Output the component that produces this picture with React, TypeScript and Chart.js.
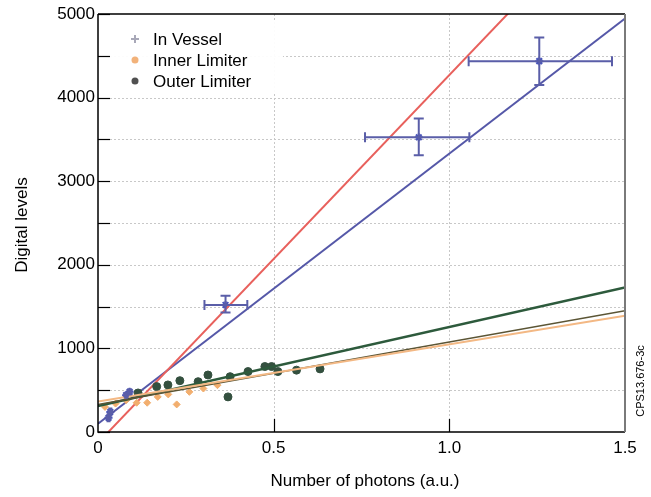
import React, { useEffect, useRef } from "react";
import { Chart, registerables } from "chart.js";

Chart.register(...registerables);

// ---- data ----
const vesselX = [0.03, 0.035, 0.08, 0.09, 0.363, 0.913, 1.256];
const vesselY = [170, 240, 440, 480, 1520, 3525, 4436];
const vesselXLow = [0.025, 0.03, 0.075, 0.085, 0.303, 0.76, 1.055];
const vesselXHigh = [0.035, 0.04, 0.085, 0.095, 0.425, 1.057, 1.463];
const vesselYLow = [130, 200, 410, 450, 1430, 3310, 4150];
const vesselYHigh = [210, 280, 470, 510, 1630, 3750, 4720];

const innerX = [0.02, 0.05, 0.08, 0.11, 0.14, 0.17, 0.2, 0.224, 0.26, 0.3, 0.34];
const innerY = [300, 340, 380, 350, 350, 420, 450, 330, 480, 520, 560];

const outerX = [0.114, 0.167, 0.199, 0.233, 0.285, 0.313, 0.376, 0.37, 0.427, 0.475, 0.494, 0.512, 0.565, 0.632];
const outerY = [467, 543, 563, 614, 602, 682, 662, 420, 723, 783, 783, 723, 740, 755];

const fitX = [0, 1.5];
const redFit = [-130, 6470];
const blueFit = [100, 4945];
const outerFit = [310, 1730];
const innerFitDark = [330, 1450];
const innerFitOrange = [365, 1390];

const xTicks = [0, 0.5, 1.0, 1.5];
const yTicks = [0, 1000, 2000, 3000, 4000, 5000];
const yMinorTicks = [500, 1500, 2500, 3500, 4500];
const xGrid = [0.5, 1.0];
const yGrid = [500, 1000, 1500, 2000, 2500, 3000, 3500, 4000, 4500];

const legendLabels = ["In Vessel", "Inner Limiter", "Outer Limiter"];

const FONT = "'Liberation Sans', Arial, sans-serif";

const pts = (xs: number[], ys: number[]) => xs.map((x, i) => ({ x, y: ys[i] }));

const customPlugin = {
  id: "customDraw",
  beforeDatasetsDraw(chart: any) {
    const { ctx, chartArea: a, scales } = chart;
    const xs = scales.x, ys = scales.y;
    ctx.save();
    ctx.strokeStyle = "#c8c8c8";
    ctx.lineWidth = 1;
    ctx.setLineDash([2, 2]);
    yGrid.forEach((v) => {
      const y = Math.round(ys.getPixelForValue(v)) + 0.5;
      ctx.beginPath();
      ctx.moveTo(a.left, y);
      ctx.lineTo(a.right, y);
      ctx.stroke();
    });
    xGrid.forEach((v) => {
      const x = Math.round(xs.getPixelForValue(v)) + 0.5;
      ctx.beginPath();
      ctx.moveTo(x, a.top);
      ctx.lineTo(x, a.bottom);
      ctx.stroke();
    });
    ctx.setLineDash([]);
    // legend background
    ctx.fillStyle = "rgba(255,255,255,0.95)";
    ctx.fillRect(a.left + 9, a.top + 8, 176, 72);
    ctx.restore();
  },
  afterDatasetsDraw(chart: any) {
    const { ctx, chartArea: a, scales } = chart;
    const xs = scales.x, ys = scales.y;
    ctx.save();
    // error bars
    ctx.strokeStyle = "#5a5ea8";
    ctx.lineWidth = 2;
    vesselX.forEach((vx, i) => {
      const px = xs.getPixelForValue(vx);
      const py = ys.getPixelForValue(vesselY[i]);
      const x1 = xs.getPixelForValue(vesselXLow[i]);
      const x2 = xs.getPixelForValue(vesselXHigh[i]);
      const y1 = ys.getPixelForValue(vesselYLow[i]);
      const y2 = ys.getPixelForValue(vesselYHigh[i]);
      const cap = i >= 4 ? 5 : 2;
      ctx.beginPath();
      ctx.moveTo(x1, py); ctx.lineTo(x2, py);
      ctx.moveTo(x1, py - cap); ctx.lineTo(x1, py + cap);
      ctx.moveTo(x2, py - cap); ctx.lineTo(x2, py + cap);
      ctx.moveTo(px, y1); ctx.lineTo(px, y2);
      ctx.moveTo(px - cap, y1); ctx.lineTo(px + cap, y1);
      ctx.moveTo(px - cap, y2); ctx.lineTo(px + cap, y2);
      ctx.stroke();
    });
    // borders
    ctx.strokeStyle = "#000";
    ctx.lineWidth = 1.5;
    ctx.beginPath();
    ctx.moveTo(a.left, a.top);
    ctx.lineTo(a.right, a.top);
    ctx.moveTo(a.left, a.top);
    ctx.lineTo(a.left, a.bottom);
    ctx.lineTo(a.right, a.bottom);
    ctx.stroke();
    ctx.strokeStyle = "#7a7a7a";
    ctx.lineWidth = 2;
    ctx.beginPath();
    ctx.moveTo(a.right, a.top);
    ctx.lineTo(a.right, a.bottom);
    ctx.stroke();
    // inward ticks
    ctx.strokeStyle = "#000";
    ctx.lineWidth = 1.2;
    [...yTicks, ...yMinorTicks].forEach((v) => {
      const y = Math.round(ys.getPixelForValue(v)) + 0.5;
      ctx.beginPath();
      ctx.moveTo(a.left, y);
      ctx.lineTo(a.left + 12, y);
      ctx.stroke();
    });
    xGrid.forEach((v) => {
      const x = Math.round(xs.getPixelForValue(v)) + 0.5;
      ctx.beginPath();
      ctx.moveTo(x, a.bottom);
      ctx.lineTo(x, a.bottom - 13);
      ctx.stroke();
    });
    // legend
    const lx = a.left + 37;
    const ly0 = a.top + 25;
    ctx.font = `17px ${FONT}`;
    ctx.textBaseline = "middle";
    ctx.textAlign = "left";
    legendLabels.forEach((t, i) => {
      const y = ly0 + i * 21;
      if (i === 0) {
        ctx.strokeStyle = "#a8a8b8";
        ctx.lineWidth = 2;
        ctx.beginPath();
        ctx.moveTo(lx - 4, y); ctx.lineTo(lx + 4, y);
        ctx.moveTo(lx, y - 4); ctx.lineTo(lx, y + 4);
        ctx.stroke();
      } else {
        ctx.fillStyle = i === 1 ? "#f2b27a" : "#505050";
        ctx.beginPath();
        ctx.arc(lx, y, 3.5, 0, Math.PI * 2);
        ctx.fill();
      }
      ctx.fillStyle = "#000";
      ctx.fillText(t, lx + 18, y + 1);
    });
    // axis titles
    ctx.fillStyle = "#000";
    ctx.font = `17px ${FONT}`;
    ctx.textAlign = "center";
    ctx.textBaseline = "middle";
    ctx.fillText("Number of photons (a.u.)", 365, 481);
    ctx.save();
    ctx.translate(22, 225);
    ctx.rotate(-Math.PI / 2);
    ctx.fillText("Digital levels", 0, 0);
    ctx.restore();
    ctx.save();
    ctx.font = `11px ${FONT}`;
    ctx.translate(641, 381);
    ctx.rotate(-Math.PI / 2);
    ctx.fillText("CPS13.676-3c", 0, 0);
    ctx.restore();
    ctx.restore();
  },
};

export default function App() {
  const ref = useRef<HTMLCanvasElement | null>(null);
  useEffect(() => {
    if (!ref.current) return;
    const lineDs = (label: string, ys: number[], color: string, w: number) => ({
      type: "line" as const,
      label,
      data: pts(fitX, ys),
      borderColor: color,
      borderWidth: w,
      pointRadius: 0,
      fill: false,
      tension: 0,
    });
    const chart = new Chart(ref.current, {
      type: "scatter",
      data: {
        datasets: [
          lineDs("Inner fit light", innerFitOrange, "#f3b884", 2),
          lineDs("Inner fit", innerFitDark, "#5b5535", 1.5),
          lineDs("Outer fit", outerFit, "#2d5a3c", 2.5),
          {
            label: "Inner Limiter",
            data: pts(innerX, innerY),
            backgroundColor: "#f2ae6e",
            borderColor: "#f2ae6e",
            pointRadius: 3.5,
            pointStyle: "rectRot",
          } as any,
          {
            label: "Outer Limiter",
            data: pts(outerX, outerY),
            backgroundColor: "#34503f",
            borderColor: "#34503f",
            pointRadius: 4,
          } as any,
          lineDs("Red fit", redFit, "#e8605c", 2),
          lineDs("Blue fit", blueFit, "#5558a8", 2),
          {
            label: "In Vessel",
            data: pts(vesselX, vesselY),
            backgroundColor: "#4a55b8",
            borderColor: "#4a55b8",
            borderWidth: 2,
            pointRadius: 4,
            pointStyle: "star",
          } as any,
        ],
      },
      options: {
        responsive: false,
        animation: false,
        layout: { padding: { left: 0, right: 26, top: 14, bottom: 0 } },
        plugins: { legend: { display: false }, tooltip: { enabled: false } },
        scales: {
          x: {
            type: "linear",
            min: 0,
            max: 1.5,
            afterFit: (s: any) => { s.height = 65; },
            afterBuildTicks: (s: any) => { s.ticks = xTicks.map((v) => ({ value: v })); },
            grid: { display: false, drawTicks: false },
            border: { display: false },
            ticks: {
              padding: 6,
              color: "#000",
              font: { size: 17, family: FONT },
              maxRotation: 0,
              callback: (v: any) => (v === 0 ? "0" : Number(v).toFixed(1)),
            },
          },
          y: {
            type: "linear",
            min: 0,
            max: 5000,
            afterFit: (s: any) => { s.width = 98; },
            afterBuildTicks: (s: any) => { s.ticks = yTicks.map((v) => ({ value: v })); },
            grid: { display: false, drawTicks: false },
            border: { display: false },
            ticks: {
              padding: 3,
              color: "#000",
              font: { size: 17, family: FONT },
              callback: (v: any) => String(v),
            },
          },
        },
      },
      plugins: [customPlugin],
    });
    return () => chart.destroy();
  }, []);
  return (
    <div style={{ position: "absolute", left: 0, top: 0, width: 651, height: 497, background: "#fff" }}>
      <canvas ref={ref} width={651} height={497} />
    </div>
  );
}
